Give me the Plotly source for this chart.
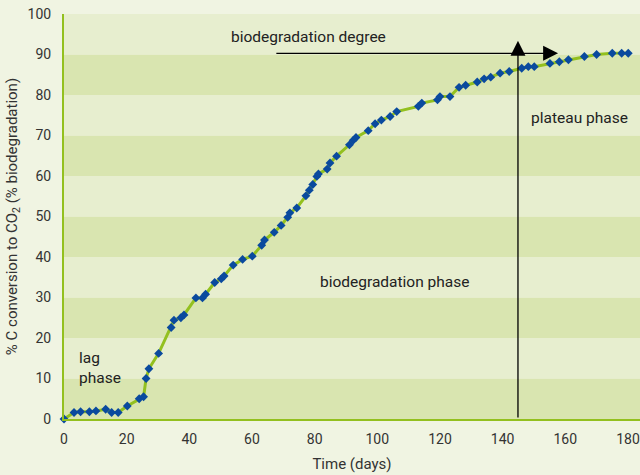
import plotly.graph_objects as go

days = [0, 3.2, 5.3, 8.1, 10.2, 13.3, 15.2, 17.3, 20.2, 24.0, 25.4, 26.2, 27.1, 30.2,
        34.2, 35.1, 37.3, 38.3, 42.1, 44.2, 45.2, 48.1, 50.2, 51.1, 54.0, 57.0, 60.1,
        63.1, 64.0, 67.1, 69.3, 71.4, 72.1, 74.3, 77.2, 78.3, 79.4, 80.7, 81.2, 84.0,
        84.9, 87.0, 91.1, 92.3, 93.2, 97.1, 99.3, 101.3, 104.1, 106.2, 113.1, 114.2,
        119.2, 120.0, 123.2, 126.1, 128.2, 131.9, 134.1, 136.2, 139.2, 142.1, 146.1,
        148.2, 150.1, 155.1, 158.1, 161.0, 166.1, 170.0, 175.0, 178.0, 180.1]
conversion = [0, 1.6, 1.8, 1.8, 2.0, 2.4, 1.6, 1.6, 3.2, 5.0, 5.5, 10.0, 12.4, 16.2,
              22.6, 24.4, 25.0, 25.7, 29.9, 29.9, 30.8, 33.7, 34.6, 35.3, 38.0, 39.4, 40.2,
              42.9, 44.2, 46.1, 47.8, 49.8, 50.9, 52.1, 55.1, 56.5, 57.9, 59.9, 60.5, 61.7,
              63.2, 64.9, 67.7, 68.8, 69.5, 71.2, 72.9, 73.8, 74.7, 75.9, 77.2, 78.0,
              78.8, 79.6, 79.6, 81.9, 82.4, 83.2, 84.0, 84.4, 85.4, 85.8, 86.6,
              87.0, 87.0, 87.8, 88.2, 88.7, 89.5, 90.0, 90.3, 90.3, 90.3]

x_ticks = [0, 20, 40, 60, 80, 100, 120, 140, 160, 180]
y_ticks = [0, 10, 20, 30, 40, 50, 60, 70, 80, 90, 100]

# annotation positions (data units)
degree_arrow = dict(x0=67.3, x1=157.7, y=90.3)
plateau_arrow = dict(x=144.9, y0=0, y1=93.4)

FONT = "Roboto"
LINE_GREEN = "#93c01f"
MARKER_BLUE = "#0a4a9e"
BAND_DARK = "#d9e5b0"
BAND_LIGHT = "#e7eecf"
PAGE_BG = "#f0f4e2"
ANN_FONT = dict(family=FONT, size=15.5, color="#222")

fig = go.Figure()
fig.add_trace(go.Scatter(
    x=days, y=conversion, mode="lines+markers",
    line=dict(color=LINE_GREEN, width=3),
    marker=dict(symbol="diamond", color=MARKER_BLUE, size=6.8, line=dict(width=0)),
    cliponaxis=False, showlegend=False,
))

shapes = []
for i in range(len(y_ticks) - 1):
    shapes.append(dict(type="rect", xref="paper", yref="y", x0=0, x1=1,
                       y0=y_ticks[i], y1=y_ticks[i + 1],
                       fillcolor=BAND_DARK if i % 2 == 0 else BAND_LIGHT,
                       line=dict(width=0), layer="below"))

annotations = [
    dict(x=degree_arrow["x1"], y=degree_arrow["y"], ax=degree_arrow["x0"], ay=degree_arrow["y"],
         xref="x", yref="y", axref="x", ayref="y", text="", showarrow=True,
         arrowhead=2, arrowsize=2.3, arrowwidth=1.3, arrowcolor="black"),
    dict(x=plateau_arrow["x"], y=plateau_arrow["y1"], ax=plateau_arrow["x"], ay=plateau_arrow["y0"],
         xref="x", yref="y", axref="x", ayref="y", text="", showarrow=True,
         arrowhead=2, arrowsize=2.3, arrowwidth=1.3, arrowcolor="black"),
    dict(x=77.9, y=94.4, xref="x", yref="y", text="biodegradation degree", showarrow=False,
         font=ANN_FONT),
    dict(x=164.5, y=74.2, xref="x", yref="y", text="plateau phase", showarrow=False,
         font=ANN_FONT),
    dict(x=105.5, y=33.9, xref="x", yref="y", text="biodegradation phase", showarrow=False,
         font=ANN_FONT),
    dict(x=4.3, y=12.7, xref="x", yref="y", text="lag<br>phase", showarrow=False,
         xanchor="left", align="left", font=ANN_FONT),
]

fig.update_layout(
    width=640, height=475,
    margin=dict(l=64, r=0, t=14, b=56),
    paper_bgcolor=PAGE_BG, plot_bgcolor=PAGE_BG,
    font=dict(family=FONT, size=14, color="#333"),
    shapes=shapes, annotations=annotations,
    xaxis=dict(range=[0, 183.85], tickvals=x_ticks, showgrid=False, zeroline=False,
               showline=True, linecolor=LINE_GREEN, linewidth=2, automargin=False,
               ticklabelstandoff=6,
               title=dict(text="Time (days)", font=dict(size=15, family=FONT), standoff=13)),
    yaxis=dict(range=[0, 100], tickvals=y_ticks, showgrid=False, zeroline=False,
               showline=True, linecolor=LINE_GREEN, linewidth=2, automargin=False,
               ticklabelstandoff=8,
               title=dict(text="% C conversion to CO<sub>2</sub> (% biodegradation)",
                          font=dict(size=15, family=FONT), standoff=6)),
)

fig.write_html(
    "out.html",
    config={"displayModeBar": False},
    post_script="document.body.style.margin='0';document.body.style.background='" + PAGE_BG + "';",
)
